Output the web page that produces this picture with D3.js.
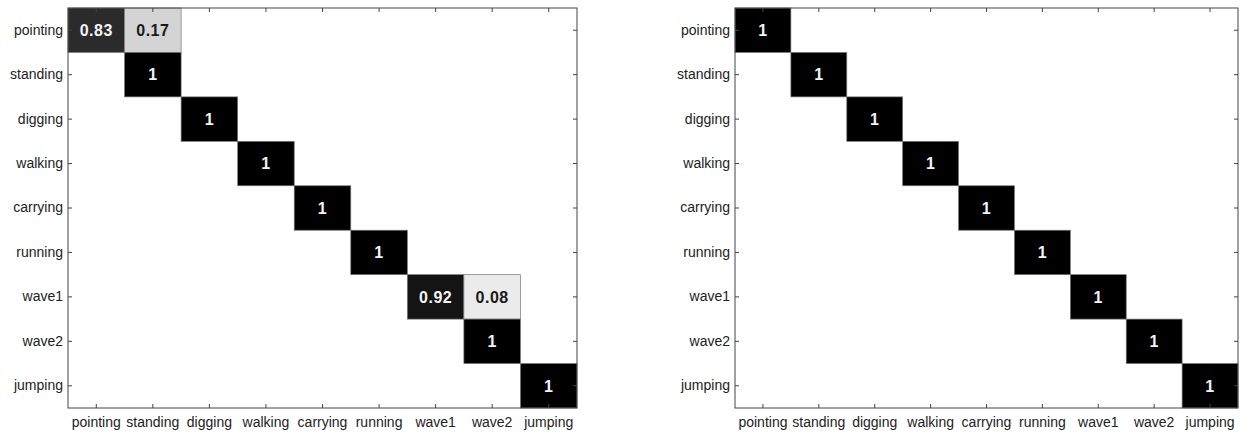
<!DOCTYPE html>
<html>
<head>
<meta charset="utf-8">
<script src="https://cdn.jsdelivr.net/npm/d3@7"></script>
<style>
  body { margin: 0; background: #fff; }
  svg text { font-family: "Liberation Sans", Arial, sans-serif; }
</style>
</head>
<body>
<svg id="chart" width="1243" height="433"></svg>
<script>
const classes = ['pointing', 'standing', 'digging', 'walking', 'carrying', 'running', 'wave1', 'wave2', 'jumping']

// confusion matrices, rows = true class, cols = predicted class
const leftMatrix = [
  [0.83, 0.17, 0, 0, 0, 0, 0, 0, 0],
  [0, 1, 0, 0, 0, 0, 0, 0, 0],
  [0, 0, 1, 0, 0, 0, 0, 0, 0],
  [0, 0, 0, 1, 0, 0, 0, 0, 0],
  [0, 0, 0, 0, 1, 0, 0, 0, 0],
  [0, 0, 0, 0, 0, 1, 0, 0, 0],
  [0, 0, 0, 0, 0, 0, 0.92, 0.08, 0],
  [0, 0, 0, 0, 0, 0, 0, 1, 0],
  [0, 0, 0, 0, 0, 0, 0, 0, 1]
]
const rightMatrix = [
  [1, 0, 0, 0, 0, 0, 0, 0, 0],
  [0, 1, 0, 0, 0, 0, 0, 0, 0],
  [0, 0, 1, 0, 0, 0, 0, 0, 0],
  [0, 0, 0, 1, 0, 0, 0, 0, 0],
  [0, 0, 0, 0, 1, 0, 0, 0, 0],
  [0, 0, 0, 0, 0, 1, 0, 0, 0],
  [0, 0, 0, 0, 0, 0, 1, 0, 0],
  [0, 0, 0, 0, 0, 0, 0, 1, 0],
  [0, 0, 0, 0, 0, 0, 0, 0, 1]
]

const svg = d3.select('#chart')

function drawMatrix(matrix, x0, x1, y0, y1) {
    const g = svg.append('g')

    const x = d3.scaleBand().domain(classes).range([x0, x1])
    const y = d3.scaleBand().domain(classes).range([y0, y1])
    // inverted gray colormap: 1 -> black, 0 -> white
    const color = v => d3.rgb(255 * (1 - v), 255 * (1 - v), 255 * (1 - v))

    const cells = []
    matrix.forEach((row, i) => row.forEach((v, j) => {
        if (v > 0) cells.push({row: classes[i], col: classes[j], v: v})
    }))

    g.selectAll('rect.cell')
        .data(cells)
        .enter()
            .append('rect')
            .classed('cell', true)
            .attr('x', d => x(d.col))
            .attr('y', d => y(d.row))
            .attr('width', x.bandwidth())
            .attr('height', y.bandwidth())
            .attr('fill', d => color(d.v))
            .attr('stroke', '#777')
            .attr('stroke-width', 0.7)

    g.selectAll('text.val')
        .data(cells)
        .enter()
            .append('text')
            .classed('val', true)
            .attr('x', d => x(d.col) + x.bandwidth() / 2)
            .attr('y', d => y(d.row) + y.bandwidth() / 2)
            .attr('dy', '0.36em')
            .attr('text-anchor', 'middle')
            .style('font-size', '16px')
            .style('font-weight', 'bold')
            .style('letter-spacing', '0.5px')
            .attr('fill', d => d.v > 0.5 ? '#f4f4f4' : '#1a1a1a')
            .text(d => d.v)

    const styleAxis = sel => {
        sel.select('.domain').remove()
        sel.selectAll('line').attr('stroke', '#444')
        sel.selectAll('text').style('font-size', '14px').attr('fill', '#222')
    }

    g.append('g')
        .attr('transform', `translate(${x0},0)`)
        .call(d3.axisLeft(y).tickSizeInner(-4).tickSizeOuter(0).tickPadding(5))
        .call(styleAxis)
    g.append('g')
        .attr('transform', `translate(0,${y1})`)
        .call(d3.axisBottom(x).tickSizeInner(-4).tickSizeOuter(0).tickPadding(9))
        .call(styleAxis)
    g.append('g')
        .attr('transform', `translate(0,${y0})`)
        .call(d3.axisTop(x).tickSizeInner(-4).tickSizeOuter(0).tickFormat(''))
        .call(styleAxis)
    g.append('g')
        .attr('transform', `translate(${x1},0)`)
        .call(d3.axisRight(y).tickSizeInner(-4).tickSizeOuter(0).tickFormat(''))
        .call(styleAxis)

    g.append('rect')
        .attr('x', x0)
        .attr('y', y0)
        .attr('width', x1 - x0)
        .attr('height', y1 - y0)
        .attr('fill', 'none')
        .attr('stroke', '#444')
        .attr('stroke-width', 1)
}

drawMatrix(leftMatrix, 68, 577, 8, 408)
drawMatrix(rightMatrix, 735, 1238, 8, 408)
</script>
</body>
</html>
